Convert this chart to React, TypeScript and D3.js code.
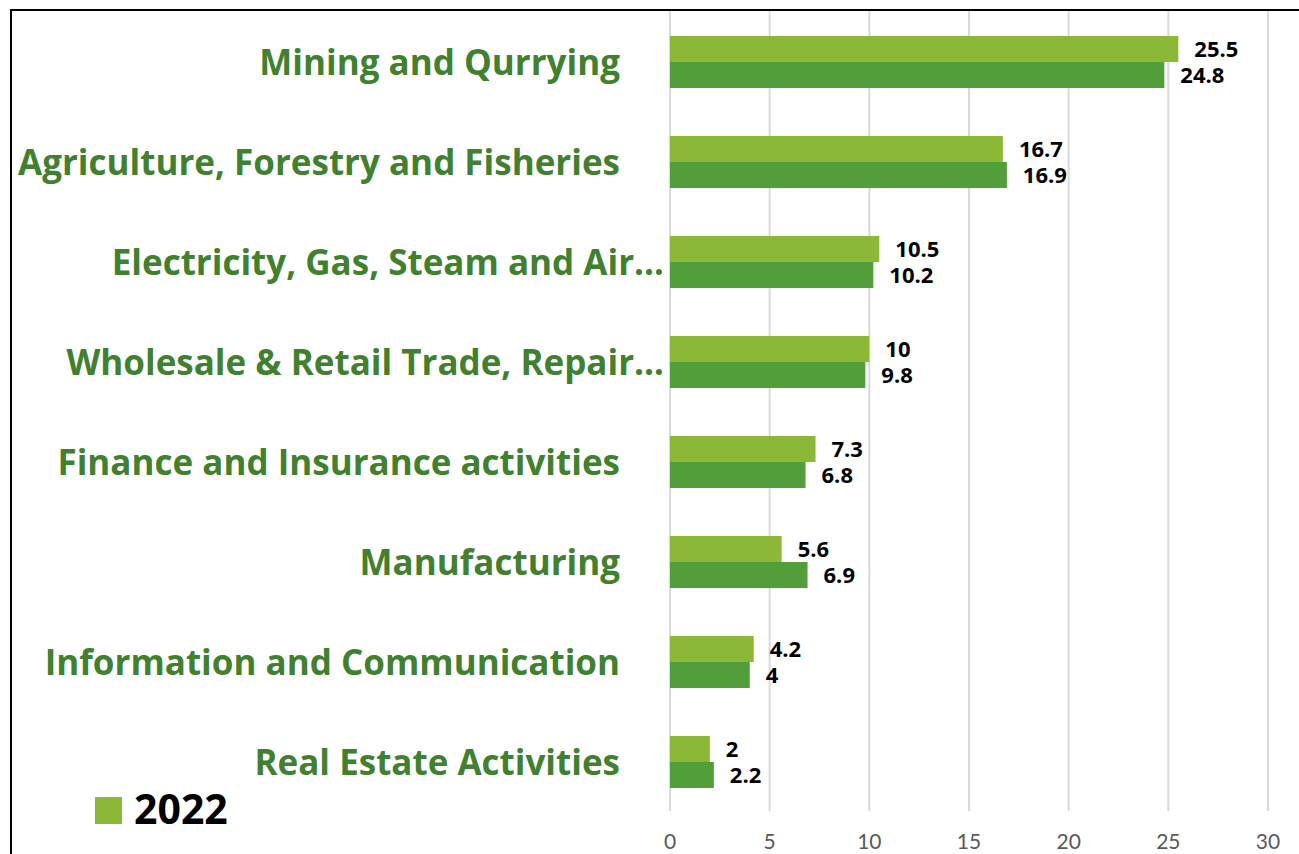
import React from "react";
import * as d3 from "d3";

const categories = [
  "Mining and Qurrying",
  "Agriculture, Forestry and Fisheries",
  "Electricity, Gas, Steam and Air…",
  "Wholesale & Retail Trade, Repair…",
  "Finance and Insurance activities",
  "Manufacturing",
  "Information and Communication",
  "Real Estate Activities",
];
const values2022 = [25.5, 16.7, 10.5, 10, 7.3, 5.6, 4.2, 2];
const valuesOther = [24.8, 16.9, 10.2, 9.8, 6.8, 6.9, 4, 2.2];
const seriesNames = ["2022", "2023"];
const xTicks = [0, 5, 10, 15, 20, 25, 30];

const W = 1299;
const H = 854;
const colors = ["#8BB836", "#519E3A"];
const labelColor = "#40802F";

export default function App() {
  const x = d3.scaleLinear().domain([0, 30]).range([670, 1268]);
  const y = d3
    .scaleBand<string>()
    .domain(categories)
    .range([12, 812])
    .paddingInner(0.48)
    .paddingOuter(0.24);
  const sub = d3.scaleBand<string>().domain(seriesNames).range([0, y.bandwidth()]);
  const series = [values2022, valuesOther];

  return (
    <svg
      width={W}
      height={H}
      style={{ position: "absolute", left: 0, top: 0, background: "#fff" }}
    >
      <rect x={0} y={0} width={W} height={H} fill="#fff" />
      {/* border */}
      <path d={`M11,${H + 5} L11,10 L${W + 5},10`} fill="none" stroke="#000" strokeWidth={2} />
      {/* gridlines */}
      {xTicks.map((t) => (
        <line key={t} x1={x(t)} x2={x(t)} y1={11} y2={811} stroke="#D9D9D9" strokeWidth={2} />
      ))}
      {/* tick labels */}
      {xTicks.map((t) => (
        <text
          key={"t" + t}
          x={x(t)}
          y={849}
          textAnchor="middle"
          fontFamily="Lato, 'Open Sans', sans-serif"
          fontSize={21}
          fill="#595959"
        >
          {t}
        </text>
      ))}
      {/* category labels */}
      {categories.map((c) => {
        const truncated = c.endsWith("…");
        return (
          <text
            key={c}
            x={truncated ? 664 : 620}
            y={(y(c) as number) + y.bandwidth() / 2}
            dy="0.36em"
            textAnchor="end"
            fontFamily="'Open Sans', sans-serif"
            fontWeight={700}
            fontSize={35}
            fill={labelColor}
          >
            {c}
          </text>
        );
      })}
      {/* bars */}
      {series.map((vals, si) =>
        categories.map((c, i) => {
          const by = (y(c) as number) + (sub(seriesNames[si]) as number);
          return (
            <g key={si + "-" + c}>
              <rect
                x={x(0)}
                y={by}
                width={x(vals[i]) - x(0)}
                height={sub.bandwidth()}
                fill={colors[si]}
              />
              <text
                x={x(vals[i]) + 16}
                y={by + sub.bandwidth() / 2}
                dy="0.36em"
                fontFamily="'Open Sans', sans-serif"
                fontWeight={700}
                fontSize={22}
                fill="#000"
              >
                {vals[i]}
              </text>
            </g>
          );
        })
      )}
      {/* legend */}
      <rect x={95} y={797} width={27} height={27} fill={colors[0]} />
      <text
        x={134}
        y={824}
        fontFamily="'Open Sans', sans-serif"
        fontWeight={700}
        fontSize={41}
        fill="#000"
      >
        {seriesNames[0]}
      </text>
    </svg>
  );
}
